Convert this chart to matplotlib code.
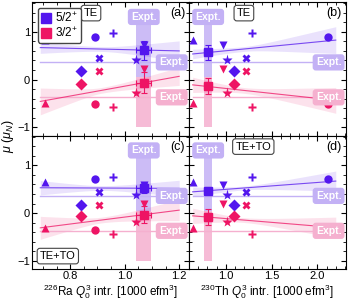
import numpy as np
import matplotlib
matplotlib.use('Agg')
import matplotlib.pyplot as plt
from matplotlib.ticker import AutoMinorLocator, MultipleLocator
import matplotlib.transforms as mtransforms

plt.rcParams['font.family'] = ['Liberation Sans', 'DejaVu Sans']
plt.rcParams['mathtext.fontset'] = 'custom'
plt.rcParams['mathtext.rm'] = 'Liberation Sans'
plt.rcParams['mathtext.it'] = 'Liberation Sans:italic'
plt.rcParams['font.size'] = 8

# model markers, same order in every list below
markers = ['^', 'D', 'o', 'X', 'P', '*', 'v']
x_ra = [0.707, 0.839, 0.891, 0.904, 0.956, 1.041, 1.069]
x_th = [0.647, 1.088, 2.12, 1.218, 1.29, 1.015, 0.97]

# magnetic moments (TE)
mu52_te = [0.83, 0.19, 0.90, 0.45, 0.97, 0.40, 0.73]
mu32_te = [-0.48, -0.10, -0.52, 0.17, -0.58, -0.29, 0.23]
# magnetic moments (TE+TO)
mu52_teto = [0.64, 0.17, 0.71, 0.45, 0.75, 0.37, 0.58]
mu32_teto = [-0.32, -0.06, -0.36, 0.16, -0.43, -0.19, 0.19]

# experiment
mu_expt = [0.36, -0.37]
q_expt_ra = [1.070, 0.028]
q_expt_th = [0.809, 0.043]

# extrapolated values at expt Q0: (a), (b), (c), (d)
sq52 = [0.61, 0.57, 0.52, 0.46]
sq52_err = [0.19, 0.16, 0.10, 0.09]
sq32 = [-0.07, -0.14, -0.03, -0.08]
sq32_err = [0.22, 0.17, 0.17, 0.16]

# confidence band half widths (left end, at mean, right end)
band52 = [[0.12, 0.05, 0.21], [0.10, 0.05, 0.28], [0.15, 0.05, 0.17], [0.10, 0.04, 0.21]]
band32 = [[0.28, 0.06, 0.19], [0.16, 0.06, 0.27], [0.24, 0.06, 0.22], [0.16, 0.05, 0.22]]

c_blue = '#5316ee'
c_pink = '#ee1464'
c_blue_l = '#c3b1f5'
c_pink_l = '#f5b0cf'


def band_hw(xx, xm, xl, xr, hw):
    hl, h0, hr = hw
    out = np.empty_like(xx)
    lm = xx < xm
    out[lm] = np.sqrt(h0**2 + (hl**2 - h0**2) * ((xx[lm] - xm) / (xl - xm))**2)
    out[~lm] = np.sqrt(h0**2 + (hr**2 - h0**2) * ((xx[~lm] - xm) / (xr - xm))**2)
    return out


def expt_box(ax, x, y, fc, trans=None):
    ax.text(x, y, 'Expt.', color='white', fontweight='bold', fontsize=7.5,
            ha='center', va='center', zorder=6,
            transform=trans if trans is not None else ax.transData,
            bbox=dict(boxstyle='round,pad=0.3', fc=fc, ec='none'))


fig, axes = plt.subplots(2, 2, figsize=(3.49, 3.0), dpi=100, sharey=True, sharex='col')
fig.subplots_adjust(left=0.092, right=0.991, top=0.993, bottom=0.103, wspace=0, hspace=0)

panels = [
    (axes[0, 0], x_ra, mu52_te, mu32_te, q_expt_ra, (0.69, 1.2), '(a)'),
    (axes[0, 1], x_th, mu52_te, mu32_te, q_expt_th, (0.64, 2.2), '(b)'),
    (axes[1, 0], x_ra, mu52_teto, mu32_teto, q_expt_ra, (0.69, 1.2), '(c)'),
    (axes[1, 1], x_th, mu52_teto, mu32_teto, q_expt_th, (0.64, 2.2), '(d)'),
]

for i, (ax, xs, y52, y32, qe, xr, lab) in enumerate(panels):
    xs = np.array(xs)
    xx = np.linspace(xr[0], xr[1], 200)
    xm = xs.mean()

    # vertical experimental Q0 band
    ax.fill_between([qe[0] - qe[1], qe[0] + qe[1]], 0.05, 1.46, color=c_blue_l, lw=0, alpha=0.85, zorder=1)
    ax.fill_between([qe[0] - qe[1], qe[0] + qe[1]], -1.0, 0.05, color=c_pink_l, lw=0, alpha=0.85, zorder=1)
    expt_box(ax, qe[0], 1.31, c_blue_l)

    for ys, hw, sq, sqe, c, cl, me in [(y52, band52[i], sq52[i], sq52_err[i], c_blue, c_blue_l, mu_expt[0]),
                                        (y32, band32[i], sq32[i], sq32_err[i], c_pink, c_pink_l, mu_expt[1])]:
        ys = np.array(ys)
        k, b = np.polyfit(xs, ys, 1)
        yy = k * xx + b
        h = band_hw(xx, xm, xr[0], xr[1], hw)
        ax.fill_between(xx, yy - h, yy + h, color=c, alpha=0.12, lw=0, zorder=2)
        ax.plot(xx, yy, color=c, lw=0.8, alpha=0.75, zorder=3)
        ax.plot(xr, [me, me], color=cl, lw=1.0, zorder=2)
        for xv, yv, m in zip(xs, ys, markers):
            ms = 8 if m == '*' else 6
            ax.plot(xv, yv, marker=m, ms=ms, color=c, ls='none', mec='none', zorder=4)
        ax.errorbar(qe[0], sq, xerr=qe[1], yerr=sqe, fmt='s', ms=5.5, color=c,
                    ecolor=c, elinewidth=0.8, capsize=2, capthick=0.8, zorder=5)
        trans = mtransforms.blended_transform_factory(ax.transAxes, ax.transData)
        expt_box(ax, 0.89, me, cl, trans)

    ax.text(0.975, 0.96, lab, transform=ax.transAxes, ha='right', va='top', fontsize=9)

    ax.tick_params(which='both', direction='in', top=True, right=True, labelsize=8, pad=1.5)
    ax.tick_params(which='major', length=3.5)
    ax.tick_params(which='minor', length=2)
    ax.yaxis.set_minor_locator(AutoMinorLocator(5))

box = dict(boxstyle='round,pad=0.25', fc='white', ec='#444444', lw=0.8)
axes[0, 0].text(0.33, 0.955, 'TE', transform=axes[0, 0].transAxes, ha='left', va='top', bbox=box)
axes[0, 1].text(0.35, 0.955, 'TE', transform=axes[0, 1].transAxes, ha='center', va='top', bbox=box)
axes[1, 0].text(0.05, 0.06, 'TE+TO', transform=axes[1, 0].transAxes, ha='left', va='bottom', bbox=box)
axes[1, 1].text(0.41, 0.955, 'TE+TO', transform=axes[1, 1].transAxes, ha='center', va='top', bbox=box)

h1, = axes[0, 0].plot([], [], 's', color=c_blue, ms=6.5)
h2, = axes[0, 0].plot([], [], 's', color=c_pink, ms=6.5)
axes[0, 0].legend([h1, h2], ['$5/2^{+}$', '$3/2^{+}$'], loc='upper left', fontsize=8.5,
                  handlelength=0.8, handletextpad=0.4, borderpad=0.25, labelspacing=0.1,
                  borderaxespad=0.5, framealpha=1, edgecolor='#444444', fancybox=True)

axes[0, 0].set_ylim(-1.17, 1.62)
axes[0, 0].yaxis.set_major_locator(MultipleLocator(1))
axes[0, 0].set_xlim(0.66, 1.236)
axes[0, 0].set_xticks([0.8, 1.0, 1.2])
axes[0, 0].xaxis.set_minor_locator(AutoMinorLocator(4))
axes[0, 1].set_xlim(0.60, 2.31)
axes[0, 1].set_xticks([1.0, 1.5, 2.0])
axes[0, 1].xaxis.set_minor_locator(AutoMinorLocator(5))

axes[1, 0].set_xlabel(r'$^{226}$Ra $Q_0^3$ intr. [1000 efm$^3$]', fontsize=8.5, labelpad=0.5)
axes[1, 1].set_xlabel(r'$^{230}$Th $Q_0^3$ intr. [1000 efm$^3$]', fontsize=8.5, labelpad=0.5)
fig.text(0.022, 0.545, r'$\mu$ ($\mu_N$)', rotation=90, ha='center', va='center', fontsize=9)

fig.savefig('out.png', dpi=100)
